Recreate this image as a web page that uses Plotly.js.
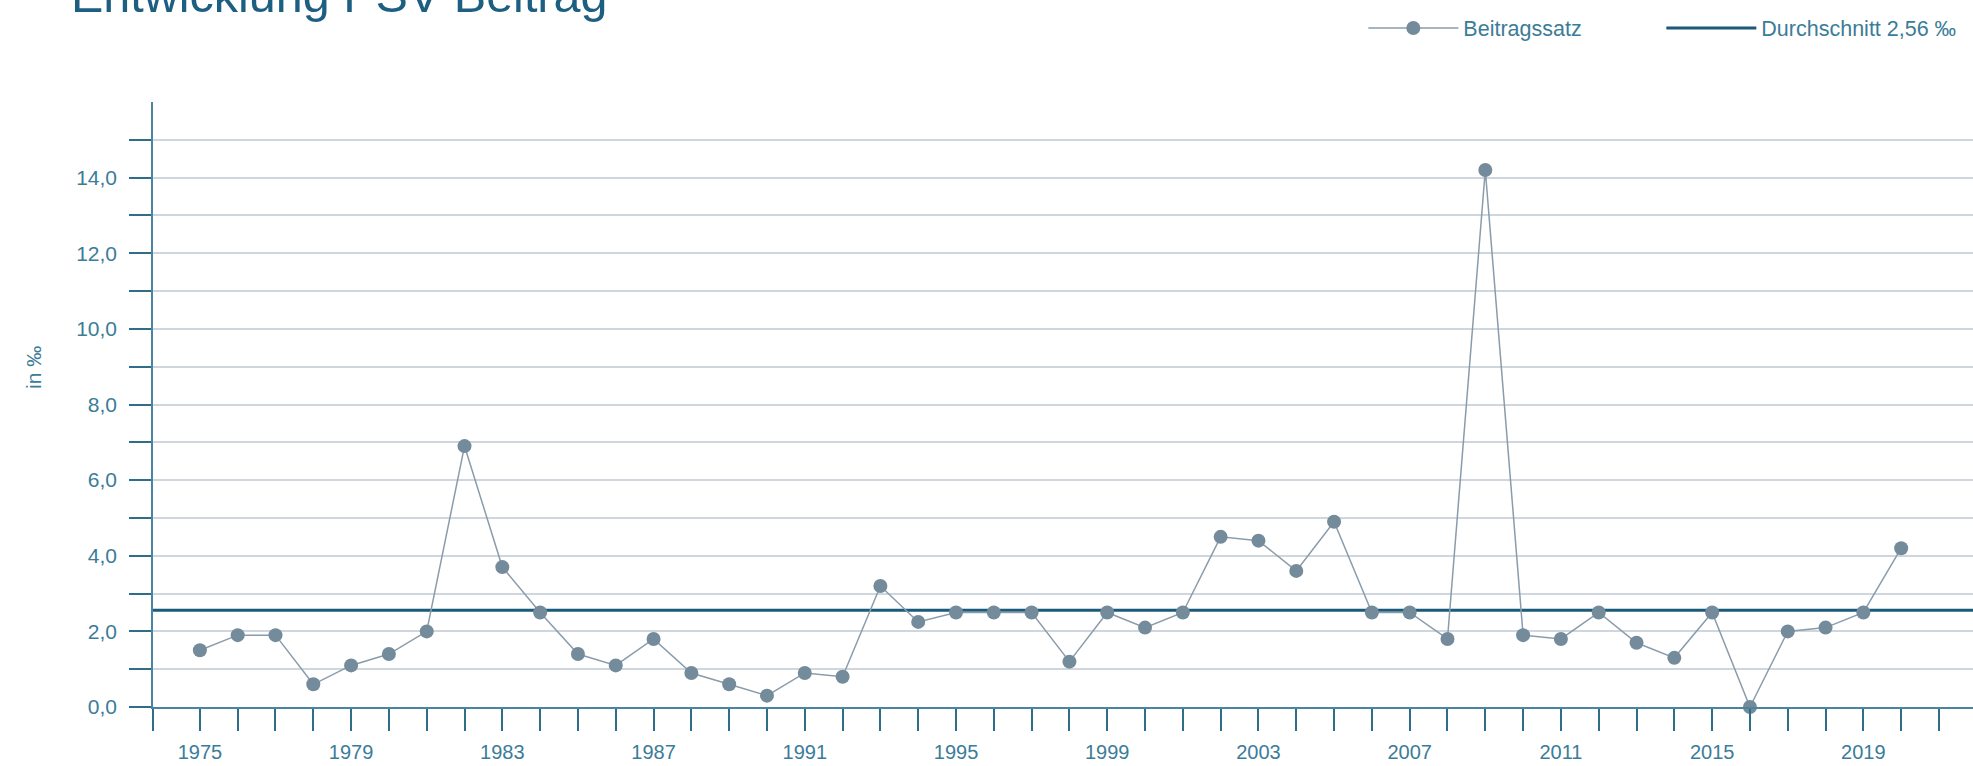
<!DOCTYPE html>
<html><head><meta charset="utf-8">
<script src="https://cdn.plot.ly/plotly-3.0.1.min.js"></script>
<style>html,body{margin:0;padding:0;background:#fff}#chart{width:1973px;height:766px}</style>
</head><body><div id="chart"></div>
<script>
const years = [1975,1976,1977,1978,1979,1980,1981,1982,1983,1984,1985,1986,1987,1988,1989,1990,1991,1992,1993,1994,1995,1996,1997,1998,1999,2000,2001,2002,2003,2004,2005,2006,2007,2008,2009,2010,2011,2012,2013,2014,2015,2016,2017,2018,2019,2020];
const beitragssatz = [1.5,1.9,1.9,0.6,1.1,1.4,2.0,6.9,3.7,2.5,1.4,1.1,1.8,0.9,0.6,0.3,0.9,0.8,3.2,2.25,2.5,2.5,2.5,1.2,2.5,2.1,2.5,4.5,4.4,3.6,4.9,2.5,2.5,1.8,14.2,1.9,1.8,2.5,1.7,1.3,2.5,0.0,2.0,2.1,2.5,4.2];
const durchschnitt = 2.56;
const seriesName = 'Beitragssatz';
const avgName = 'Durchschnitt 2,56 ‰';
const titleText = 'Entwicklung PSV Beitrag';
const yTitle = 'in ‰';
const xTickVals = [1973.76,1975,1976,1977,1978,1979,1980,1981,1982,1983,1984,1985,1986,1987,1988,1989,1990,1991,1992,1993,1994,1995,1996,1997,1998,1999,2000,2001,2002,2003,2004,2005,2006,2007,2008,2009,2010,2011,2012,2013,2014,2015,2016,2017,2018,2019,2020,2021];
const xTickText = ['','1975','','','','1979','','','','1983','','','','1987','','','','1991','','','','1995','','','','1999','','','','2003','','','','2007','','','','2011','','','','2015','','','','2019','',''];
const yTickVals = [0,1,2,3,4,5,6,7,8,9,10,11,12,13,14,15];
const yTickText = ['0,0','','2,0','','4,0','','6,0','','8,0','','10,0','','12,0','','14,0',''];

const axisColor = '#4a84a0', tickColor = '#2f6d89', labelColor = '#3b7c98';

const data = [{
  type:'scatter', mode:'lines+markers', name:seriesName,
  x:years, y:beitragssatz,
  line:{color:'#8a9cab', width:1.5},
  marker:{size:14, color:'#748b9b'},
  cliponaxis:false, hoverinfo:'x+y'
}];

const layout = {
  width:1973, height:766,
  margin:{l:153, r:0, t:102, b:59, pad:0},
  paper_bgcolor:'#ffffff', plot_bgcolor:'#ffffff',
  font:{family:'Liberation Sans, Arial, sans-serif', color:labelColor, size:20},
  showlegend:true,
  legend:{orientation:'h', xref:'container', yref:'container', x:0.691, y:0.9634, xanchor:'left', yanchor:'middle',
          font:{size:21.5, color:labelColor}, itemwidth:90, entrywidth:193, bgcolor:'rgba(0,0,0,0)', borderwidth:0},
  xaxis:{range:[1973.76,2021.9], tickmode:'array', tickvals:xTickVals, ticktext:xTickText,
         ticks:'outside', ticklen:22, tickwidth:1.5, tickcolor:tickColor,
         showline:true, linecolor:axisColor, linewidth:1.5, showgrid:false, zeroline:false,
         ticklabelstandoff:4, tickfont:{size:20, color:labelColor}, fixedrange:true},
  yaxis:{range:[0,16], tickmode:'array', tickvals:yTickVals, ticktext:yTickText,
         ticks:'outside', ticklen:22, tickwidth:1.5, tickcolor:tickColor,
         showline:true, linecolor:axisColor, linewidth:1.5,
         showgrid:true, gridcolor:'#cfd6dd', gridwidth:1.5, zeroline:false,
         ticklabelstandoff:8, tickfont:{size:21, color:labelColor}, fixedrange:true},
  shapes:[{type:'line', xref:'paper', x0:0, x1:1, yref:'y', y0:durchschnitt, y1:durchschnitt,
           line:{color:'#1b5a78', width:3}, layer:'below', showlegend:true, name:avgName}],
  annotations:[
    {text:yTitle, textangle:-90, xref:'paper', yref:'paper', x:-0.0654, y:0.562,
     xanchor:'center', yanchor:'middle', showarrow:false, font:{size:21, color:labelColor}},
    {text:titleText, xref:'paper', yref:'paper', x:-0.0464, y:1.1765, xanchor:'left', yanchor:'middle',
     showarrow:false, font:{size:48.5, color:'#1d5f80'}}
  ]
};

Plotly.newPlot('chart', data, layout, {displayModeBar:false, responsive:false});
</script></body></html>
